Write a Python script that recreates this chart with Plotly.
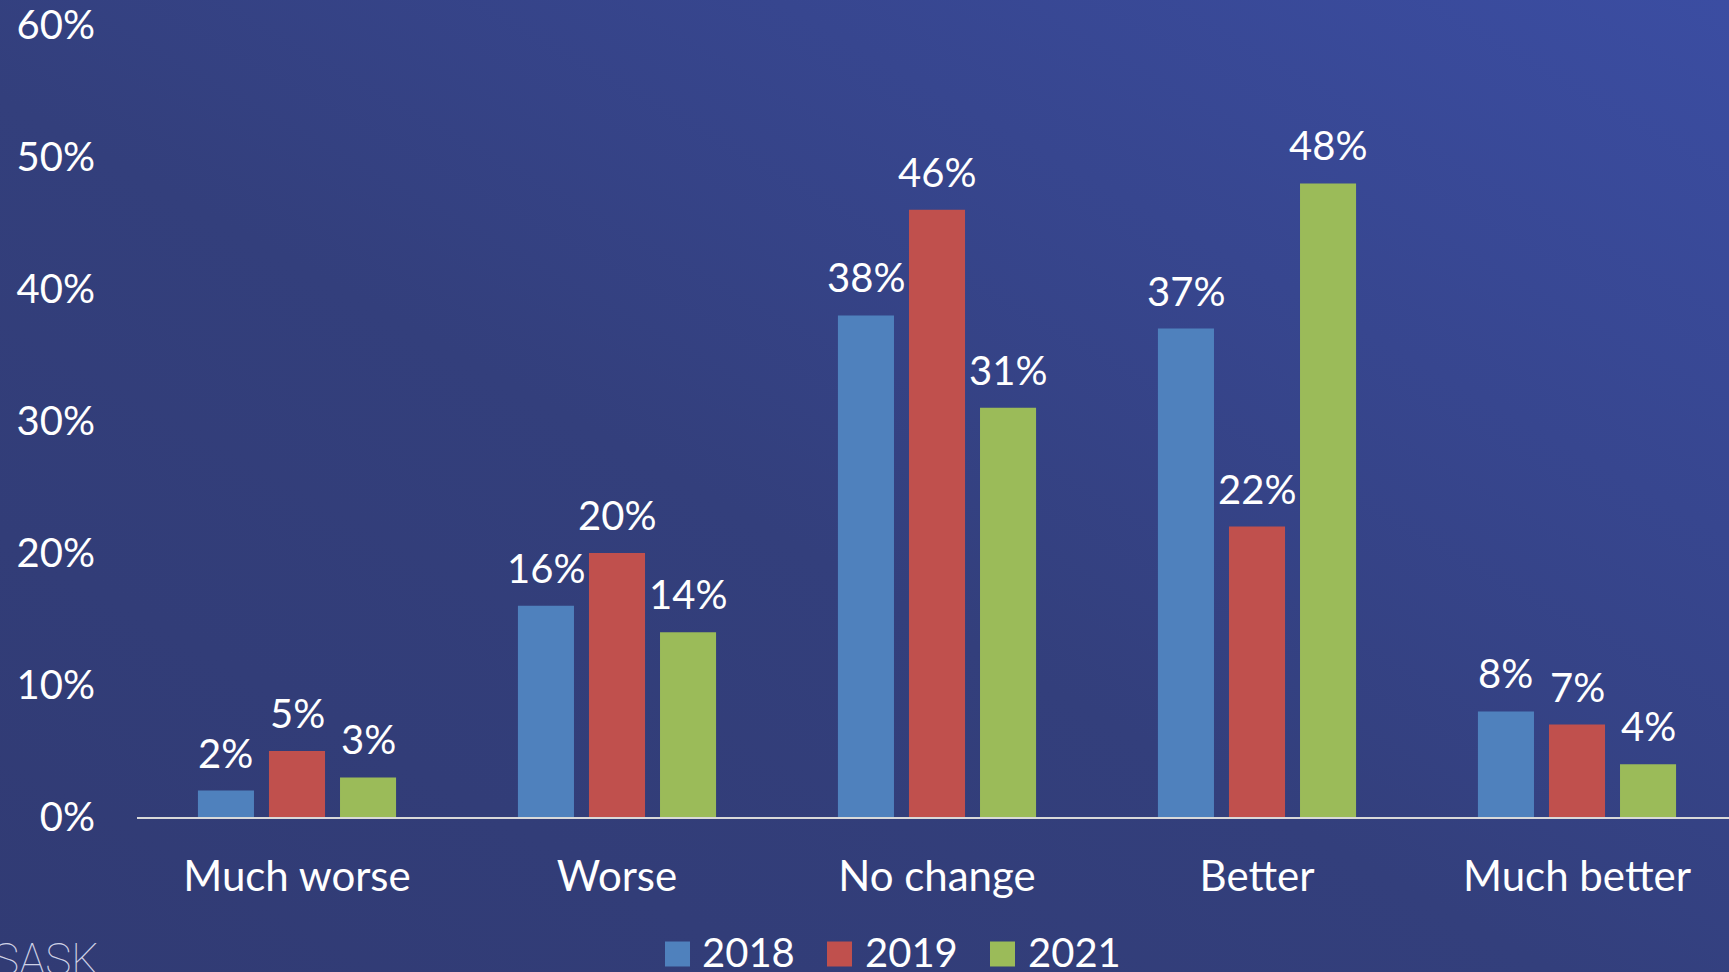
import base64
import plotly.graph_objects as go

categories = ["Much worse", "Worse", "No change", "Better", "Much better"]
years = ["2018", "2019", "2021"]
values_2018 = [2, 16, 38, 37, 8]
values_2019 = [5, 20, 46, 22, 7]
values_2021 = [3, 14, 31, 48, 4]
series = [values_2018, values_2019, values_2021]
colors = ["#4f81bd", "#c0504d", "#9bbb59"]
y_ticks = [0, 10, 20, 30, 40, 50, 60]

W, H = 1729, 972
L, R, T, B = 137, 0, 25, 155
PW, PH = W - L - R, H - T - B
FONT = "Lato, 'Open Sans', sans-serif"
FS = 40


def px_x(px):
    return (px - L) / PW


def px_y(py):
    return (H - B - py) / PH


fig = go.Figure()
x_idx = list(range(len(categories)))
for name, vals, col in zip(years, series, colors):
    fig.add_trace(go.Bar(
        x=x_idx, y=vals, name=name, marker=dict(color=col, line=dict(width=0)),
        showlegend=False, hoverinfo="skip",
    ))

# data labels
n = len(years)
slot = (1 - 0.334) / n
annotations = []
for i, (vals, col) in enumerate(zip(series, colors)):
    offset = -((1 - 0.334) / 2) + slot * (i + 0.5)
    for ci, v in enumerate(vals):
        annotations.append(dict(
            x=ci + offset, y=v, xref="x", yref="y", text=f"{v}%", showarrow=False,
            yanchor="middle", xanchor="center", yshift=38,
            font=dict(family=FONT, size=FS, color="white"),
        ))

# background gradient
svg = f'''<svg xmlns="http://www.w3.org/2000/svg" width="{W}" height="{H}" viewBox="0 0 {W} {H}" preserveAspectRatio="none">
<defs><linearGradient id="g" x1="0" y1="1" x2="1" y2="0">
<stop offset="0" stop-color="#313b74"/>
<stop offset="0.45" stop-color="#333f7c"/>
<stop offset="1" stop-color="#3b4da2"/>
</linearGradient></defs>
<rect x="0" y="0" width="{W}" height="{H}" fill="url(#g)"/></svg>'''
src = "data:image/svg+xml;base64," + base64.b64encode(svg.encode()).decode()

images = [dict(source=src, xref="paper", yref="paper", x=px_x(0), y=px_y(0),
               sizex=W / PW, sizey=H / PH, sizing="stretch", layer="below",
               xanchor="left", yanchor="top")]

# legend drawn manually
shapes = []
leg_sq_x = [665, 827, 990]
leg_txt_x = [700, 863, 1026]
sq = 25
cy = 952
for name, col, sx, tx in zip(years, colors, leg_sq_x, leg_txt_x):
    shapes.append(dict(type="rect", xref="paper", yref="paper",
                       x0=px_x(sx), x1=px_x(sx + sq), y0=px_y(cy - sq / 2 + 2), y1=px_y(cy + sq / 2 + 2),
                       fillcolor=col, line=dict(width=0)))
    annotations.append(dict(x=px_x(tx), y=px_y(cy), xref="paper", yref="paper", text=name,
                            showarrow=False, xanchor="left", yanchor="middle",
                            font=dict(family=FONT, size=FS, color="white")))

annotations.append(dict(x=px_x(-9), y=px_y(932), xref="paper", yref="paper", text="SASK",
                        showarrow=False, xanchor="left", yanchor="top",
                        font=dict(family="Roboto, sans-serif", size=44, color="#cfd2e6", weight=100)))

fig.update_layout(
    width=W, height=H,
    margin=dict(l=L, r=R, t=T, b=B, pad=0),
    paper_bgcolor="#343f80", plot_bgcolor="rgba(0,0,0,0)",
    barmode="group", bargap=0.334, bargroupgap=0.211,
    showlegend=False,
    annotations=annotations, shapes=shapes, images=images,
    font=dict(family=FONT, color="white", size=FS),
)
fig.update_xaxes(
    tickmode="array", tickvals=x_idx, ticktext=categories,
    range=[-0.5, -0.5 + PW / 320], showgrid=False, zeroline=False,
    showline=True, linecolor="#d9d9d9", linewidth=2,
    ticks="", ticklabelstandoff=22,
    tickfont=dict(family=FONT, size=42, color="white"),
)
fig.update_yaxes(
    range=[0, 60], tickmode="array", tickvals=y_ticks,
    ticktext=[f"{t}%" for t in y_ticks], showgrid=False, zeroline=False,
    showline=False, ticks="", ticklabelstandoff=41,
    tickfont=dict(family=FONT, size=FS, color="white"),
)

fig.write_html(
    "out.html",
    config={"displayModeBar": False},
    post_script="document.body.style.margin='0';document.body.style.overflow='hidden';"
                "document.body.style.background='#343f80';",
)
